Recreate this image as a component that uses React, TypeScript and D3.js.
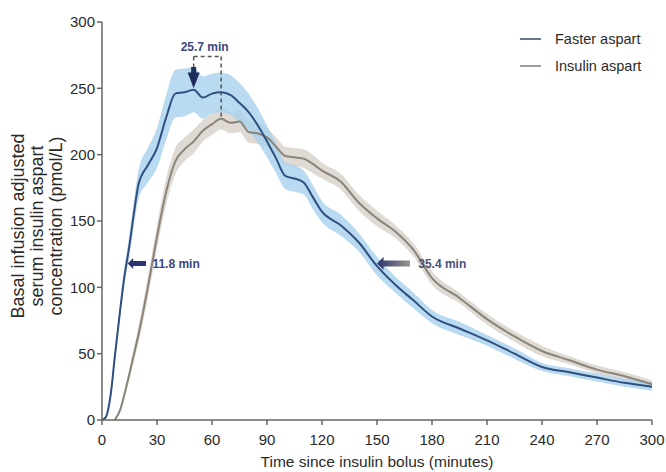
import React from "react";
import * as d3 from "d3";

// sampling times (minutes)
const times = [0, 2, 5, 7, 10, 12, 15, 17, 20, 25, 30, 35, 40, 45, 50, 55, 60, 65, 70, 75, 80, 85, 90, 95, 100, 105, 110, 115, 120, 130, 140, 150, 160, 170, 180, 195, 210, 225, 240, 255, 270, 285, 300];

// Faster aspart mean and CI half width (pmol/L)
const fasterMean = [0, 2, 22, 48, 84, 106, 132, 152, 178, 192, 205, 228, 246, 247, 249, 243, 246, 247, 245, 239, 232, 222, 210, 197, 184, 182, 179, 168, 157, 147, 134, 116, 102, 90, 78, 69, 60, 50, 40, 36, 32, 28, 25];
const fasterSpread = [0, 1, 3, 4, 5, 6, 8, 9, 11, 13, 15, 17, 18, 18, 17, 16, 15, 15, 15, 15, 14, 13, 12, 11, 10, 10, 9, 9, 8, 8, 7, 7, 6, 6, 5, 5, 4, 4, 3, 3, 3, 3, 3];

// Insulin aspart mean and CI half width (pmol/L)
const aspartMean = [0, 0, 0, 0, 8, 18, 35, 47, 65, 100, 138, 172, 195, 204, 210, 218, 223, 227, 224, 225, 217, 216, 213, 206, 199, 198, 197, 193, 188, 180, 164, 152, 142, 128, 107, 92, 76, 63, 52, 45, 38, 33, 27];
const aspartSpread = [0, 0, 0, 0, 2, 3, 4, 5, 6, 8, 9, 10, 10, 9, 9, 8, 8, 8, 8, 8, 8, 8, 7, 7, 7, 7, 7, 7, 6, 6, 6, 6, 5, 5, 5, 4, 4, 4, 4, 3, 3, 3, 3];

const xTicks = [0, 30, 60, 90, 120, 150, 180, 210, 240, 270, 300];
const yTicks = [0, 50, 100, 150, 200, 250, 300];
const yLabelLines = ["Basal infusion adjusted", "serum insulin aspart", "concentration (pmol/L)"];
const seriesNames = ["Faster aspart", "Insulin aspart"];

const W = 666;
const H = 472;
const FONT = '"Liberation Sans", Arial, sans-serif';
const BLUE = "#2f4f80";
const BLUE_BAND = "#a8d1ec";
const GRAY = "#8a847a";
const GRAY_BAND = "#d9d4cc";
const NAVY = "#3a4780";

export default function App() {
  const x = d3.scaleLinear().domain([0, 300]).range([102, 652]);
  const y = d3.scaleLinear().domain([0, 300]).range([420, 22]);

  const faster = times.map((t, i) => ({ t, v: fasterMean[i], s: fasterSpread[i] }));
  const aspart = times
    .map((t, i) => ({ t, v: aspartMean[i], s: aspartSpread[i] }))
    .filter((d) => d.t >= 7);

  const line = d3
    .line<{ t: number; v: number }>()
    .x((d) => x(d.t))
    .y((d) => y(d.v))
    .curve(d3.curveMonotoneX);
  const area = d3
    .area<{ t: number; v: number; s: number }>()
    .x((d) => x(d.t))
    .y0((d) => y(Math.max(0, d.v - d.s)))
    .y1((d) => y(d.v + d.s))
    .curve(d3.curveMonotoneX);

  // horizontal arrow pointing left, from x1 (tail) to x2 (tip)
  const arrow = (x1: number, x2: number, yy: number, w: number) => {
    const h = w * 1.1;
    return `M${x1},${yy - w / 2} L${x2 + h},${yy - w / 2} L${x2 + h},${yy - h} L${x2},${yy} L${x2 + h},${yy + h} L${x2 + h},${yy + w / 2} L${x1},${yy + w / 2} Z`;
  };

  const peakT = 50;
  const peakT2 = 65;
  const bracketY = y(274);

  return (
    <svg width={W} height={H} style={{ position: "absolute", left: 0, top: 0, background: "#fff" }} fontFamily={FONT}>
      <defs>
        <linearGradient id="arrGrad" x1="0" x2="1" y1="0" y2="0">
          <stop offset="0" stopColor="#2c3570" />
          <stop offset="1" stopColor="#9a968c" />
        </linearGradient>
      </defs>

      {/* bands */}
      <path d={area(aspart) || ""} fill={GRAY_BAND} opacity={0.85} />
      <path d={area(faster) || ""} fill={BLUE_BAND} opacity={0.8} />

      {/* lines */}
      <path d={line(aspart) || ""} fill="none" stroke={GRAY} strokeWidth={2} />
      <path d={line(faster) || ""} fill="none" stroke={BLUE} strokeWidth={2} />

      {/* axes */}
      <g stroke="#666" strokeWidth={1.5}>
        <line x1={x(0)} x2={x(300)} y1={y(0)} y2={y(0)} />
        <line x1={x(0)} x2={x(0)} y1={y(0)} y2={y(300)} />
        {xTicks.map((t) => (
          <line key={"xt" + t} x1={x(t)} x2={x(t)} y1={y(0)} y2={y(0) + 5} />
        ))}
        {yTicks.map((t) => (
          <line key={"yt" + t} x1={x(0) - 5} x2={x(0)} y1={y(t)} y2={y(t)} />
        ))}
      </g>
      <g fill="#2a2a2a" fontSize={15}>
        {xTicks.map((t) => (
          <text key={"xl" + t} x={x(t)} y={y(0) + 25} textAnchor="middle">
            {t}
          </text>
        ))}
        {yTicks.map((t) => (
          <text key={"yl" + t} x={x(0) - 7} y={y(t)} dy="0.35em" textAnchor="end">
            {t}
          </text>
        ))}
      </g>
      <text x={377} y={467} textAnchor="middle" fontSize={15.5} fill="#2a2a2a">
        Time since insulin bolus (minutes)
      </text>
      {yLabelLines.map((s, i) => (
        <text
          key={s}
          transform={`translate(${18 + i * 19},226) rotate(-90)`}
          textAnchor="middle"
          dy="0.35em"
          fontSize={18}
          fill="#2a2a2a"
        >
          {s}
        </text>
      ))}

      {/* legend */}
      {seriesNames.map((s, i) => (
        <g key={s}>
          <line x1={520} x2={541} y1={39 + i * 27} y2={39 + i * 27} stroke={i === 0 ? "#3a4a66" : "#7d7d7d"} strokeWidth={1.5} />
          <text x={555} y={39 + i * 27} dy="0.35em" fontSize={14.5} fill="#2a2a2a">
            {s}
          </text>
        </g>
      ))}

      {/* tmax bracket */}
      <g stroke="#555" strokeWidth={1.5} strokeDasharray="4,3" fill="none">
        <line x1={x(peakT)} x2={x(peakT2)} y1={bracketY} y2={bracketY} />
        <line x1={x(peakT2)} x2={x(peakT2)} y1={bracketY} y2={y(227)} />
        <line x1={x(peakT)} x2={x(peakT)} y1={bracketY} y2={y(265)} />
      </g>
      <path
        d={`M${x(peakT) - 2.5},${y(266)} L${x(peakT) + 2.5},${y(266)} L${x(peakT) + 2.5},${y(262)} L${x(peakT) + 6},${y(262)} L${x(peakT)},${y(250)} L${x(peakT) - 6},${y(262)} L${x(peakT) - 2.5},${y(262)} Z`}
        fill="#1f2d5c"
      />
      <text x={x(56)} y={51} textAnchor="middle" fontSize={12} fontWeight="bold" fill={NAVY}>
        25.7 min
      </text>

      {/* onset arrows */}
      <path d={arrow(x(24), x(14), y(118), 5)} fill="#2c3570" />
      <text x={x(27.5)} y={y(118)} dy="0.35em" fontSize={12} fontWeight="bold" fill={NAVY}>
        11.8 min
      </text>
      <path d={arrow(x(168), x(150), y(118), 6)} fill="url(#arrGrad)" />
      <text x={x(172.5)} y={y(118)} dy="0.35em" fontSize={12} fontWeight="bold" fill="#4a4f78">
        35.4 min
      </text>
    </svg>
  );
}
